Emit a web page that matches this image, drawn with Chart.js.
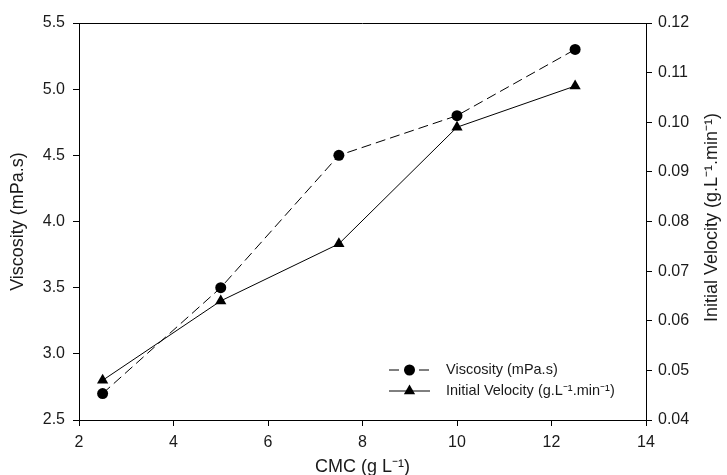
<!DOCTYPE html>
<html>
<head>
<meta charset="utf-8">
<script src="https://cdn.jsdelivr.net/npm/chart.js@4"></script>
<style>
  html, body { margin: 0; padding: 0; background: #fff; }
  #wrap { width: 727px; height: 475px; }
</style>
</head>
<body>
<div id="wrap"><canvas id="chart" width="727" height="475"></canvas></div>
<script>
const cmc = [2.5, 5, 7.5, 10, 12.5];
const viscosity = [2.7, 3.5, 4.5, 4.8, 5.3];
const velocity = [0.048, 0.064, 0.0755, 0.099, 0.1073];

const xTicks = [2, 4, 6, 8, 10, 12, 14];
const viscTicks = [2.5, 3.0, 3.5, 4.0, 4.5, 5.0, 5.5];
const velTicks = [0.04, 0.05, 0.06, 0.07, 0.08, 0.09, 0.10, 0.11, 0.12];

const xTitle = 'CMC (g L\u207B\u00B9)';
const yTitle = 'Viscosity (mPa.s)';
const y1Title = 'Initial Velocity (g.L\u207B\u00B9.min\u207B\u00B9)';

const FONT = 'Liberation Sans, Arial, sans-serif';
const TEXT = '#1a1a1a';

// top border of the box, axis titles and the legend inside the plot
const frame = {
    id: 'frame',
    afterDraw(chart) {
        const { ctx, chartArea: a } = chart;
        ctx.save();
        ctx.strokeStyle = '#000';
        ctx.lineWidth = 1;
        ctx.beginPath();
        ctx.moveTo(a.left, a.top + 0.5);
        ctx.lineTo(a.right, a.top + 0.5);
        ctx.stroke();

        // axis titles
        const midY = (a.top + a.bottom) / 2;
        ctx.fillStyle = TEXT;
        ctx.font = '18px ' + FONT;
        ctx.textAlign = 'center';
        ctx.textBaseline = 'middle';
        ctx.fillText(xTitle, (a.left + a.right) / 2, 467);
        [[18, yTitle, midY], [712, y1Title, midY - 4]].forEach(([x, t, cy]) => {
            ctx.save();
            ctx.translate(x, cy);
            ctx.rotate(-Math.PI / 2);
            ctx.fillText(t, 0, 0);
            ctx.restore();
        });

        // legend
        const x0 = 389, x1 = 430, tx = 446;
        let y = 370;
        ctx.textAlign = 'left';
        chart.data.datasets.forEach(ds => {
            ctx.strokeStyle = '#000';
            ctx.setLineDash(ds.borderDash || []);
            ctx.beginPath();
            ctx.moveTo(x0, y);
            ctx.lineTo(x1, y);
            ctx.stroke();
            ctx.setLineDash([]);
            const mx = (x0 + x1) / 2;
            ctx.fillStyle = '#000';
            ctx.beginPath();
            if (ds.pointStyle === 'triangle') {
                const r = ds.pointRadius;
                ctx.moveTo(mx, y - r);
                ctx.lineTo(mx + r * 0.866, y + r * 0.5);
                ctx.lineTo(mx - r * 0.866, y + r * 0.5);
                ctx.closePath();
            } else {
                ctx.arc(mx, y, ds.pointRadius, 0, Math.PI * 2);
            }
            ctx.fill();
            ctx.fillStyle = TEXT;
            ctx.font = '14.5px ' + FONT;
            ctx.fillText(ds.label, tx, y);
            y += 21;
        });
        ctx.restore();
    }
};

function axisStyle(extra, tickPad, fmt) {
    return Object.assign({
        grid: { display: true, drawOnChartArea: false, drawTicks: true, tickLength: 6, color: '#000', tickColor: '#000' },
        border: { display: true, color: '#000', width: 1 },
        ticks: { color: TEXT, font: { family: FONT, size: 16 }, padding: tickPad, maxRotation: 0, callback: fmt },
        title: { display: false }
    }, extra);
}

new Chart(document.getElementById('chart'), {
    type: 'line',
    data: {
        datasets: [
            {
                label: yTitle,
                data: cmc.map((c, i) => ({ x: c, y: viscosity[i] })),
                yAxisID: 'y',
                borderColor: '#000',
                backgroundColor: '#000',
                borderWidth: 1,
                borderDash: [10, 5],
                pointStyle: 'circle',
                pointRadius: 5.5,
                pointBorderWidth: 0,
                tension: 0
            },
            {
                label: y1Title,
                data: cmc.map((c, i) => ({ x: c, y: velocity[i] })),
                yAxisID: 'y1',
                borderColor: '#000',
                backgroundColor: '#000',
                borderWidth: 1,
                pointStyle: 'triangle',
                pointRadius: 6.5,
                pointBorderWidth: 0,
                tension: 0
            }
        ]
    },
    options: {
        responsive: false,
        animation: false,
        layout: { padding: { top: 23, right: 0, left: 0, bottom: 0 } },
        plugins: { legend: { display: false }, tooltip: { enabled: false } },
        scales: {
            x: axisStyle({
                type: 'linear',
                min: 2, max: 14,
                afterBuildTicks: s => { s.ticks = xTicks.map(v => ({ value: v })); },
                afterFit: s => { s.height = 55; }
            }, 7, v => String(v)),
            y: axisStyle({
                type: 'linear',
                position: 'left',
                min: 2.5, max: 5.5,
                afterBuildTicks: s => { s.ticks = viscTicks.map(v => ({ value: v })); },
                afterFit: s => { s.width = 79; }
            }, 8, v => v.toFixed(1)),
            y1: axisStyle({
                type: 'linear',
                position: 'right',
                min: 0.04, max: 0.12,
                afterBuildTicks: s => { s.ticks = velTicks.map(v => ({ value: v })); },
                afterFit: s => { s.width = 81; }
            }, 6, v => v.toFixed(2))
        }
    },
    plugins: [frame]
});
</script>
</body>
</html>
